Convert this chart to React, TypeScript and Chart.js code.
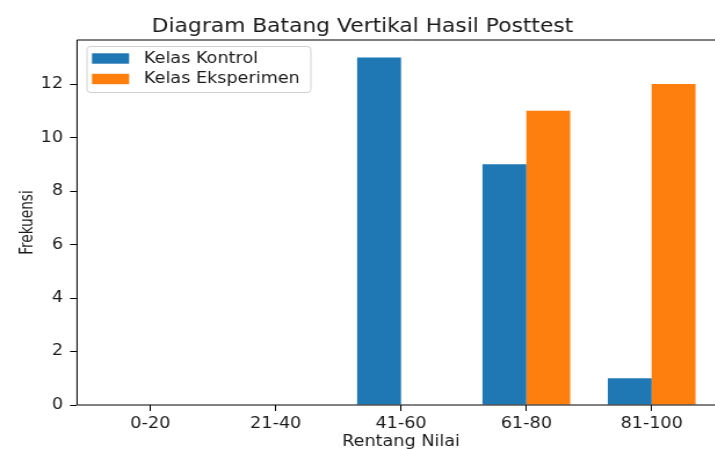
import React, { useEffect, useRef } from "react";
import { Chart, registerables } from "chart.js";

Chart.register(...registerables);

// ---- data ----
const categories = ["0-20", "21-40", "41-60", "61-80", "81-100"];
const kontrol = [0, 0, 13, 9, 1];
const eksperimen = [0, 0, 0, 11, 12];
const yTicks = [0, 2, 4, 6, 8, 10, 12];
const seriesLabels = ["Kelas Kontrol", "Kelas Eksperimen"];
const seriesColors = ["#1f77b4", "#ff7f0e"];
const chartTitle = "Diagram Batang Vertikal Hasil Posttest";
const xTitle = "Rentang Nilai";
const yTitle = "Frekuensi";

// ---- layout ----
const S = 1.16; // horizontal stretch of the reference image
const W = 680;
const H = 470;
const FAMILY = "'DejaVu Sans', 'Noto Sans', sans-serif";
const COND_FAMILY = "'DejaVu Sans Condensed', 'Liberation Sans Narrow', 'DejaVu Sans', sans-serif";
const TEXT = "#1a1a1a";
const FS = 15.2;

// matplotlib-like spines (the right one lies outside the visible area)
const framePlugin = {
  id: "mplFrame",
  afterDatasetsDraw(chart: any) {
    const { ctx, chartArea: a } = chart;
    ctx.save();
    ctx.strokeStyle = "#000";
    ctx.lineWidth = 1;
    ctx.beginPath();
    ctx.moveTo(a.right + 20, a.top);
    ctx.lineTo(a.left, a.top);
    ctx.lineTo(a.left, a.bottom);
    ctx.lineTo(a.right + 20, a.bottom);
    ctx.stroke();
    ctx.restore();
  },
};

const legendPlugin = {
  id: "mplLegend",
  afterDraw(chart: any) {
    const { ctx, chartArea: a } = chart;
    const x0 = a.left + 8.6;
    const y0 = a.top + 6.5;
    const w = 193;
    const h = 46;
    const r = 3;
    ctx.save();
    ctx.beginPath();
    ctx.moveTo(x0 + r, y0);
    ctx.lineTo(x0 + w - r, y0);
    ctx.quadraticCurveTo(x0 + w, y0, x0 + w, y0 + r);
    ctx.lineTo(x0 + w, y0 + h - r);
    ctx.quadraticCurveTo(x0 + w, y0 + h, x0 + w - r, y0 + h);
    ctx.lineTo(x0 + r, y0 + h);
    ctx.quadraticCurveTo(x0, y0 + h, x0, y0 + h - r);
    ctx.lineTo(x0, y0 + r);
    ctx.quadraticCurveTo(x0, y0, x0 + r, y0);
    ctx.closePath();
    ctx.fillStyle = "rgba(255,255,255,0.8)";
    ctx.fill();
    ctx.strokeStyle = "#d0d0d0";
    ctx.lineWidth = 1;
    ctx.stroke();
    chart.data.datasets.forEach((ds: any, i: number) => {
      const cy = y0 + 12 + i * 20.5;
      ctx.fillStyle = ds.backgroundColor;
      ctx.fillRect(x0 + 4.3, cy - 5.2, 32, 10.4);
      ctx.fillStyle = TEXT;
      ctx.font = `${FS}px ${FAMILY}`;
      ctx.textBaseline = "middle";
      ctx.textAlign = "left";
      ctx.fillText(ds.label, x0 + 49.1, cy + 0.5);
    });
    ctx.restore();
  },
};

export default function App() {
  const ref = useRef<HTMLCanvasElement | null>(null);

  useEffect(() => {
    if (!ref.current) return;
    const tickFont = { family: FAMILY, size: FS };
    const chart = new Chart(ref.current, {
      type: "bar",
      data: {
        datasets: [
          {
            label: seriesLabels[0],
            data: kontrol.map((v, i) => ({ x: i, y: v })),
            backgroundColor: seriesColors[0],
            borderWidth: 0,
            categoryPercentage: 0.7,
            barPercentage: 1,
          },
          {
            label: seriesLabels[1],
            data: eksperimen.map((v, i) => ({ x: i, y: v })),
            backgroundColor: seriesColors[1],
            borderWidth: 0,
            categoryPercentage: 0.7,
            barPercentage: 1,
          },
        ],
      },
      options: {
        responsive: false,
        animation: false,
        devicePixelRatio: 1,
        layout: { padding: { left: 0, right: W - 625, top: 0, bottom: 0 } },
        plugins: {
          legend: { display: false },
          tooltip: { enabled: false },
          title: {
            display: true,
            text: chartTitle,
            color: TEXT,
            font: { family: FAMILY, size: 18.8, weight: "normal" },
            padding: { top: 16, bottom: 1.44 },
          },
        },
        scales: {
          x: {
            type: "linear",
            min: -0.585,
            max: 4.585,
            offset: false,
            afterBuildTicks: (s: any) => {
              s.ticks = categories.map((_, i) => ({ value: i }));
            },
            afterFit: (s: any) => {
              s.height = 65;
            },
            ticks: {
              autoSkip: false,
              maxRotation: 0,
              minRotation: 0,
              padding: 4,
              color: TEXT,
              font: tickFont,
              callback: (v: any) => categories[Math.round(Number(v))] ?? "",
            },
            grid: {
              display: true,
              offset: false,
              drawOnChartArea: false,
              drawTicks: true,
              tickLength: 6,
              color: "#000",
              lineWidth: 1,
            },
            border: { display: false },
            title: {
              display: true,
              text: xTitle,
              color: TEXT,
              font: { family: FAMILY, size: FS },
              padding: { top: 0, bottom: 19.2 },
            },
          },
          y: {
            type: "linear",
            min: 0,
            max: 13.65,
            afterBuildTicks: (s: any) => {
              s.ticks = yTicks.map((v) => ({ value: v }));
            },
            afterFit: (s: any) => {
              s.width = 66.4;
            },
            ticks: {
              padding: 6,
              color: TEXT,
              font: tickFont,
              callback: (v: any) => String(v),
            },
            grid: {
              display: true,
              drawOnChartArea: false,
              drawTicks: true,
              tickLength: 6,
              color: "#000",
              lineWidth: 1,
            },
            border: { display: false },
            title: {
              display: true,
              text: yTitle,
              color: TEXT,
              font: { family: COND_FAMILY, size: FS },
              padding: { top: 14.6, bottom: 0 },
            },
          },
        },
      } as any,
      plugins: [framePlugin, legendPlugin],
    });
    return () => chart.destroy();
  }, []);

  return (
    <div
      style={{
        position: "fixed",
        left: 0,
        top: 0,
        width: 715,
        height: 449,
        overflow: "hidden",
        background: "#fff",
      }}
    >
      <div style={{ transform: `scaleX(${S})`, transformOrigin: "0 0", width: W, height: H }}>
        <canvas ref={ref} width={W} height={H} style={{ display: "block", width: W, height: H }} />
      </div>
    </div>
  );
}
